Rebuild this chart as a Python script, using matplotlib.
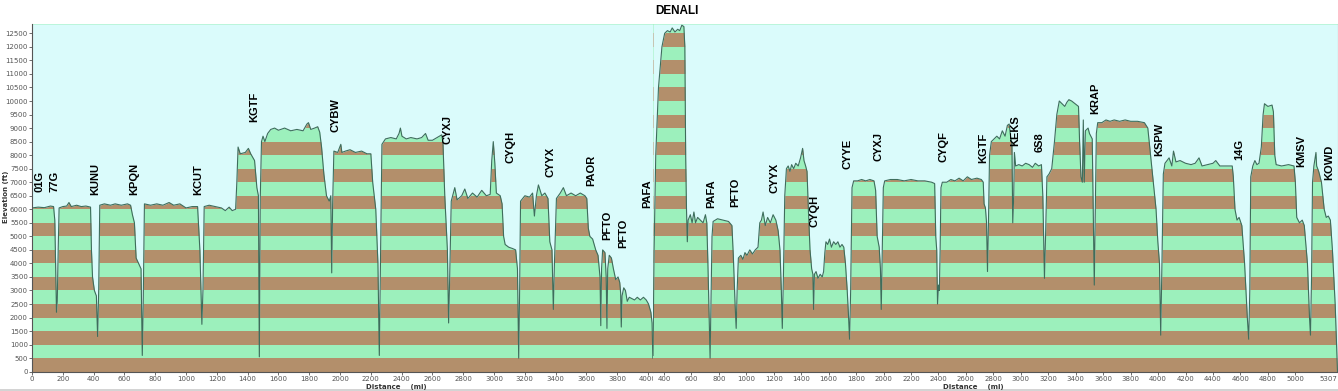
import matplotlib
matplotlib.use('Agg')
import matplotlib.pyplot as plt
from matplotlib.transforms import Bbox, TransformedBbox

# profile of the first leg (distance mi, elevation ft)
dist1 = [0, 40, 80, 120, 140, 148, 155, 159, 164, 170, 176, 200, 225, 240, 255, 290, 320, 350, 380,
         386, 393, 405, 418, 426, 433, 440, 470, 510, 540, 580, 620, 640, 652, 665, 676, 692, 708,
         716, 722, 730, 770, 810, 850, 890, 920, 960, 1000, 1040, 1075, 1090, 1103, 1110, 1118,
         1150, 1190, 1230, 1255, 1280, 1300, 1322, 1330, 1338, 1352, 1385, 1405, 1420, 1445, 1460,
         1470, 1476, 1482, 1490, 1500, 1512, 1530, 1550, 1575, 1600, 1640, 1680, 1720, 1760, 1785,
         1795, 1810, 1835, 1855, 1868, 1880, 1895, 1912, 1930, 1940, 1946, 1952, 1960, 1985, 2005,
         2012, 2035, 2065, 2100, 2140, 2175, 2200, 2212, 2232, 2246, 2255, 2262, 2272, 2295, 2330,
         2365, 2383, 2392, 2402, 2430, 2460, 2500, 2530, 2555, 2572, 2600, 2630, 2660, 2668, 2680,
         2697, 2705, 2712, 2722, 2745, 2760, 2790, 2810, 2830, 2860, 2890, 2920, 2950, 2975, 2985,
         2995, 3005, 3015, 3040, 3052, 3062, 3072, 3095, 3120, 3140, 3152, 3160, 3166, 3172, 3200,
         3230, 3250, 3262, 3275, 3288, 3310, 3330, 3350, 3362, 3376, 3385, 3392, 3405, 3430, 3450,
         3470, 3500, 3530, 3560, 3590, 3602, 3612, 3622, 3640, 3660, 3675, 3688, 3693, 3698, 3705,
         3720, 3728, 3733, 3738, 3748, 3762, 3775, 3790, 3805, 3816, 3822, 3826, 3831, 3842, 3853,
         3865, 3878, 3895, 3912, 3930, 3950, 3970, 3988, 4003, 4018, 4026, 4031]
elev1 = [6050, 6080, 6060, 6120, 6100, 5600, 3500, 2200, 2600, 4500, 6050, 6100, 6120, 6250, 6100,
         6150, 6100, 6120, 6080, 4500, 3500, 3000, 2800, 1300, 3000, 6150, 6200, 6150, 6200, 6150,
         6200, 6150, 5800, 5500, 4200, 4000, 3800, 600, 2500, 6200, 6150, 6200, 6150, 6250, 6150,
         6200, 6050, 6100, 6100, 4500, 1750, 3000, 6100, 6150, 6100, 6050, 5950, 6080, 5950, 6000,
         7000, 8300, 8050, 8100, 8250, 8050, 7800, 6800, 6500, 550, 6400, 8500, 8700, 8500, 8800,
         8950, 9000, 8920, 9000, 8900, 8950, 8900, 9150, 9200, 8950, 9000, 9050, 8850, 8300, 7300,
         6500, 6300, 6500, 3650, 6200, 8150, 8100, 8400, 8100, 8150, 8200, 8100, 8150, 8050, 8050,
         7000, 6000, 4000, 600, 3800, 8400, 8600, 8650, 8600, 8800, 9000, 8700, 8600, 8650, 8600,
         8650, 8800, 8550, 8550, 8650, 8750, 8500, 6500, 4500, 1800, 3500, 6300, 6800, 6350, 6500,
         6750, 6400, 6600, 6450, 6700, 6500, 6550, 7800, 8500, 7700, 6600, 6500, 6200, 5000, 4700,
         4600, 4550, 4500, 3800, 500, 3000, 6300, 6500, 6450, 6600, 5750, 6500, 6900, 6500, 6600,
         6400, 4800, 4500, 2300, 4000, 6400, 6600, 6800, 6500, 6600, 6500, 6600, 6500, 6400, 5300,
         5000, 4900, 4500, 4300, 3500, 1700, 3800, 4500, 4400, 3500, 1600, 3800, 4300, 4200, 3800,
         3400, 3500, 3300, 2900, 1650, 2800, 3100, 3000, 2600, 2750, 2700, 2650, 2750, 2650, 2750,
         2650, 2500, 2200, 1800, 500]

# profile of the second leg
dist2 = [320, 328, 340, 360, 385, 405, 425, 445, 460, 480, 500, 515, 530, 545, 552, 558, 564, 570,
         576, 592, 605, 618, 630, 645, 665, 685, 702, 712, 720, 730, 736, 742, 750, 758, 790, 830,
         870, 895, 905, 918, 926, 933, 942, 960, 975, 990, 1005, 1025, 1045, 1065, 1085, 1098, 1110,
         1122, 1138, 1155, 1175, 1195, 1215, 1232, 1245, 1255, 1262, 1270, 1280, 1292, 1305, 1318,
         1330, 1345, 1360, 1378, 1395, 1410, 1420, 1432, 1442, 1452, 1464, 1476, 1485, 1490, 1496,
         1508, 1522, 1538, 1553, 1563, 1572, 1580, 1593, 1606, 1620, 1636, 1652, 1667, 1682, 1697,
         1710, 1722, 1735, 1745, 1752, 1760, 1770, 1782, 1810, 1840, 1870, 1900, 1930, 1942, 1953,
         1968, 1977, 1983, 1990, 1998, 2008, 2050, 2100, 2150, 2200, 2250, 2300, 2350, 2372, 2380,
         2387, 2393, 2400, 2406, 2412, 2418, 2428, 2460, 2490, 2520, 2550, 2580, 2610, 2640, 2680,
         2712, 2726, 2732, 2742, 2750, 2757, 2764, 2772, 2785, 2805, 2825, 2845, 2865, 2885, 2902,
         2915, 2925, 2935, 2941, 2948, 2953, 2962, 2985, 3010, 3035, 3060, 3085, 3105, 3130, 3150,
         3160, 3168, 3172, 3180, 3190, 3205, 3225, 3245, 3262, 3280, 3300, 3320, 3335, 3350, 3370,
         3395, 3420, 3428, 3438, 3448, 3455, 3462, 3470, 3490, 3500, 3520, 3530, 3535, 3540, 3550,
         3560, 3590, 3620, 3650, 3680, 3720, 3760, 3800, 3850, 3900, 3925, 3945, 3965, 3985, 3998,
         4010, 4019, 4028, 4038, 4050, 4080, 4100, 4112, 4130, 4160, 4200, 4240, 4270, 4298, 4320,
         4360, 4400, 4420, 4450, 4500, 4540, 4548, 4560, 4575, 4590, 4610, 4630, 4650, 4660, 4668,
         4675, 4690, 4705, 4720, 4735, 4752, 4765, 4775, 4800, 4830, 4840, 4850, 4860, 4900, 4950,
         4990, 5000, 5010, 5030, 5050, 5065, 5088, 5103, 5110, 5118, 5125, 5135, 5150, 5155, 5170,
         5190, 5210, 5225, 5240, 5255, 5270, 5290, 5307]
elev2 = [600, 4500, 8000, 10500, 12000, 12500, 12600, 12550, 12700, 12550, 12650, 12600, 12800,
         12750, 12000, 8000, 6000, 4800, 5600, 5800, 5500, 5900, 5500, 5700, 5600, 5500, 5800, 5500,
         4000, 1800, 500, 2500, 5000, 5550, 5650, 5600, 5550, 5400, 4300, 2500, 1600, 3000, 4200,
         4300, 4150, 4400, 4300, 4500, 4350, 4500, 4600, 5500, 5600, 5900, 5400, 5700, 5500, 5800,
         5600, 5200, 4500, 3000, 1600, 3500, 6500, 7500, 7600, 7400, 7650, 7500, 7700, 7600, 7900,
         8250, 7800, 7600, 7400, 6000, 4500, 3800, 3600, 2300, 3600, 3700, 3450, 3600, 3500, 3700,
         4400, 4800, 4700, 4900, 4600, 4800, 4700, 4800, 4600, 4700, 4600, 4000, 3000, 2000, 1200,
         3000, 6800, 7050, 7050, 7100, 7050, 7100, 7050, 6700, 5000, 4600, 3800, 2300, 4500, 6800,
         7050, 7100, 7100, 7050, 7100, 7050, 7050, 7000, 6950, 5000, 4500, 2500, 3200, 3000, 4500,
         6800, 7000, 7000, 7100, 7050, 7150, 7050, 7200, 7100, 7150, 7100, 7000, 6200, 6050, 5500,
         3700, 5500, 8000, 8500, 8600, 8700, 8600, 8900, 8700, 9100, 9150, 8700, 8400, 5500, 6500,
         8100, 7600, 7650, 7600, 7700, 7650, 7550, 7700, 7600, 7650, 6500, 4500, 3450, 5000, 7200,
         7300, 7500, 8500, 9500, 10000, 9900, 9800, 9950, 10050, 10000, 9900, 9800, 8500, 7200, 7000,
         9300, 7000, 8900, 9000, 8800, 8600, 5000, 3200, 5000, 8800, 9200, 9200, 9300, 9250, 9300,
         9250, 9300, 9250, 9250, 9200, 9000, 8000, 7000, 6000, 4800, 4000, 1350, 4000, 7300, 7700,
         7900, 7600, 8150, 7750, 7800, 7700, 7650, 7700, 7900, 7600, 7650, 7700, 7800, 7600, 7600,
         7600, 7200, 6000, 5600, 5700, 5400, 4000, 2000, 1200, 3000, 7200, 7600, 7800, 7650, 7700,
         8300, 9500, 9900, 9800, 9850, 9600, 8000, 7650, 7600, 7650, 7600, 7000, 5700, 5500, 5600,
         5400, 4000, 2000, 1350, 3500, 7000, 7600, 8100, 7600, 7400, 7000, 6000, 5700, 5750, 5600,
         4500, 2500, 0]

# airport labels: name, distance, elevation of label start
names1 = ['01G', '77G', 'KUNU', 'KPQN', 'KCUT', 'KGTF', 'CYBW', 'CYXJ', 'CYQH', 'CYYX', 'PAOR',
          'PFTO', 'PFTO', 'PAFA']
lab_d1 = [47, 149, 409, 664, 1080, 1443, 1968, 2697, 3108, 3368, 3630, 3732, 3836, 3995]
lab_e1 = [6640, 6640, 6530, 6530, 6530, 9235, 8866, 8412, 7710, 7192, 6871, 4865, 4570, 6036]
names2 = ['PAFA', 'PFTO', 'CYYX', 'CYQH', 'CYYE', 'CYXJ', 'CYQF', 'KGTF', 'KEKS', '6S8', 'KRAP',
          'KSPW', '14G', 'KMSV', 'KOWD']
lab_d2 = [747, 917, 1208, 1500, 1735, 1966, 2434, 2726, 2957, 3134, 3539, 4008, 4590, 5045, 5246]
lab_e2 = [6047, 6084, 6601, 5345, 7477, 7795, 7758, 7721, 8338, 8127, 9520, 7968, 7820, 7551, 7082]

ticks1 = list(range(0, 4001, 200))
ticks2 = list(range(400, 5001, 200)) + [5307]
yticks = list(range(0, 12501, 500))

brown = '#b38f6b'
green = '#9cf0bc'
sky = '#dafbfb'
edge = '#3e6d5c'
ymax = 12845

W, H = 1338, 391
fig = plt.figure(figsize=(W / 100, H / 100), dpi=100)
bot = (H - 371.7) / H
hgt = (371.7 - 24) / H
ax1 = fig.add_axes([32 / W, bot, (653 - 32) / W, hgt])
ax2 = fig.add_axes([653 / W, bot, (1337.5 - 653) / W, hgt])


def draw_leg(ax, d, e, lo, hi, names, ld, le):
    for k in range(26):
        ax.axhspan(k * 500, (k + 1) * 500, color=brown if k % 2 == 0 else green, lw=0, zorder=0)
    ax.fill_between(d, e, ymax, color=sky, lw=0, zorder=1)
    ax.plot(d, e, color=edge, lw=0.8, zorder=2)
    ax.set_xlim(lo, hi)
    ax.set_ylim(0, ymax)
    for n, x, y in zip(names, ld, le):
        ax.text(x, y, n, rotation=90, ha='center', va='bottom', fontsize=8,
                fontweight='bold', family='Liberation Sans', zorder=3)
    for s in ['top', 'right', 'left']:
        ax.spines[s].set_visible(False)
    ax.spines['bottom'].set_color('#555555')
    ax.tick_params(axis='x', labelsize=5, colors='#555555', length=2, width=0.6, pad=1)


draw_leg(ax1, dist1, elev1, 0, 4032, names1, lab_d1, lab_e1)
draw_leg(ax2, dist2, elev2, 320, 5307, names2, lab_d2, lab_e2)

ax1.spines['left'].set_visible(True)
ax1.spines['left'].set_color('#555555')
ax1.set_yticks(yticks)
ax1.tick_params(axis='y', labelsize=5, colors='#555555', length=2, width=0.6, pad=1)
ax1.set_xticks(ticks1)
ax2.set_yticks([])
ax2.set_xticks(ticks2)
ax2.spines['right'].set_visible(True)
ax2.spines['right'].set_color('#999999')

# last label of first leg is cut by the second chart
lbl = ax1.get_xticklabels()[-1]
lbl.set_clip_box(TransformedBbox(Bbox([[0, 0], [653 / W, 1]]), fig.transFigure))
lbl.set_clip_on(True)
ax2.get_xticklabels()[-1].set_horizontalalignment('right')

fig.text(677 / W, 1 - 11 / H, 'DENALI', ha='center', va='center', fontsize=8.5,
         fontweight='bold', family='Liberation Sans')
fig.text(6 / W, 1 - 197 / H, 'Elevation (ft)', rotation=90, ha='center', va='center',
         fontsize=5, fontweight='bold', color='#333333')
fig.text(396 / W, 1 - 386.5 / H, 'Distance    (mi)', ha='center', va='center',
         fontsize=5, fontweight='bold', color='#333333')
fig.text(973 / W, 1 - 386.5 / H, 'Distance    (mi)', ha='center', va='center',
         fontsize=5, fontweight='bold', color='#333333')
fig.add_artist(plt.Line2D([0, 1], [1 - 390 / H, 1 - 390 / H], color='#cccccc', lw=1.2))

fig.savefig('out.png', dpi=100)
